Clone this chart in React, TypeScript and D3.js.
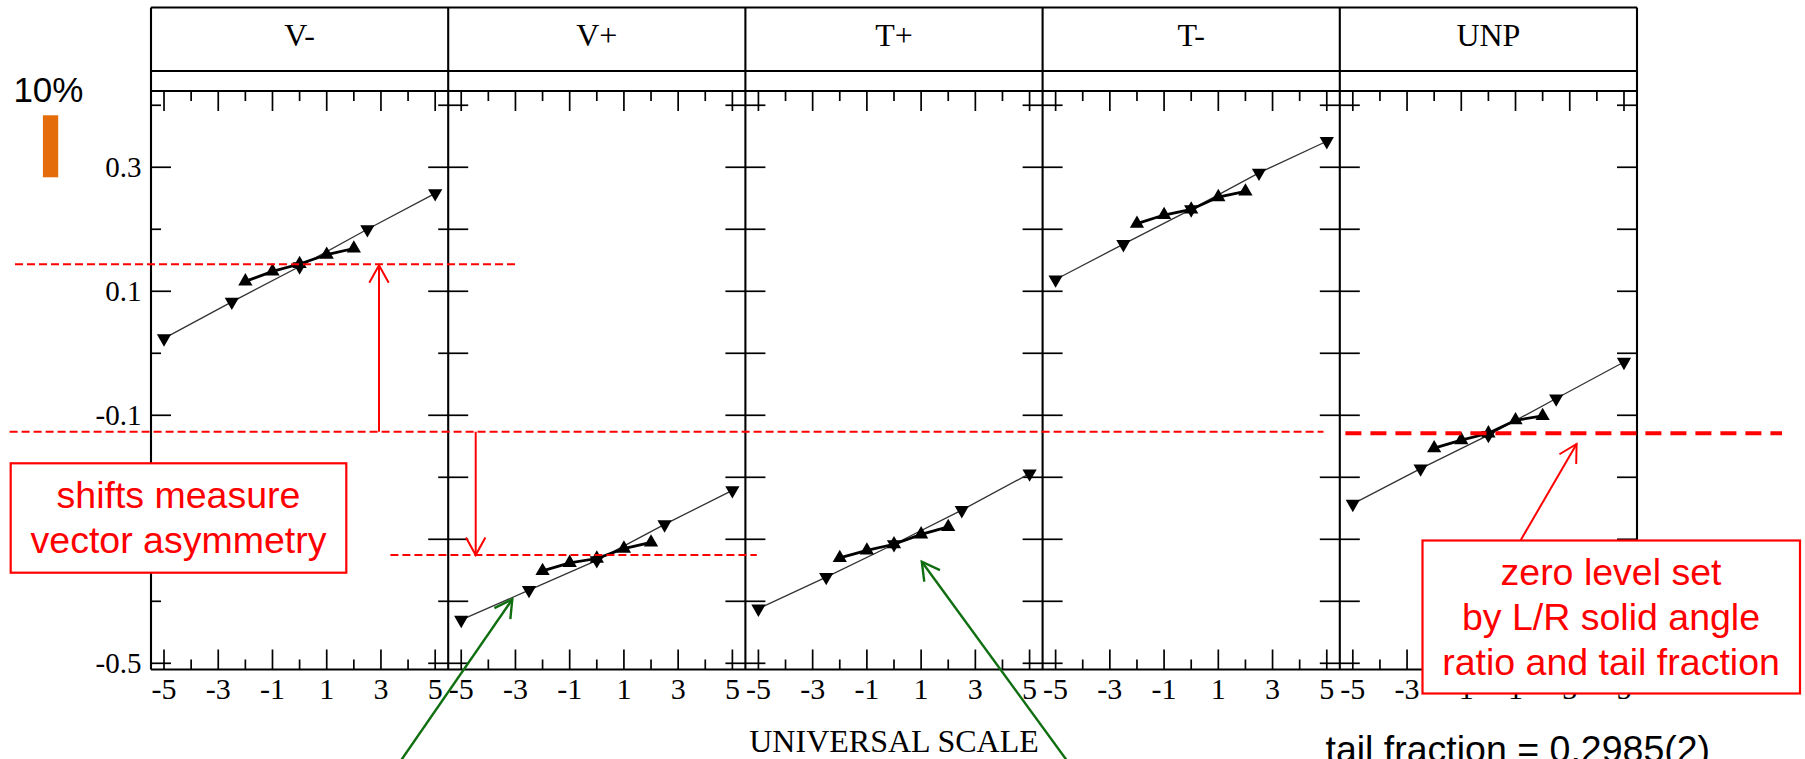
import React from 'react';
import * as d3 from 'd3';

// panels along the top
const panels = ['V-', 'V+', 'T+', 'T-', 'UNP'];

// universal-scale positions of the two series
const downX = [-5, -2.5, 0, 2.5, 5];
const upX = [-2, -1, 0, 1, 2];

// values per panel (down triangles, thin line)
const downY = [
  [0.024, 0.083, 0.14, 0.2, 0.258],
  [-0.43, -0.382, -0.334, -0.276, -0.221],
  [-0.412, -0.361, -0.308, -0.253, -0.194],
  [0.119, 0.176, 0.232, 0.291, 0.342],
  [-0.243, -0.186, -0.132, -0.073, -0.014],
];
// values per panel (up triangles, bold line)
const upY = [
  [0.116, 0.132, 0.144, 0.159, 0.169],
  [-0.351, -0.338, -0.331, -0.315, -0.305],
  [-0.33, -0.318, -0.308, -0.292, -0.28],
  [0.209, 0.223, 0.232, 0.252, 0.261],
  [-0.153, -0.14, -0.129, -0.108, -0.101],
];

const xTicks = [-5, -4, -3, -2, -1, 0, 1, 2, 3, 4, 5];
const xLabels = [-5, -3, -1, 1, 3, 5];
const yTicks = [-0.5, -0.4, -0.3, -0.2, -0.1, 0, 0.1, 0.2, 0.3, 0.4];
const yLabels = [0.3, 0.1, -0.1, -0.3, -0.5];

// red reference levels
const levelVminus = 0.1436;
const levelBase = -0.1265;
const levelVplus = -0.3255;
const levelZero = -0.129;

const W = 1805;
const H = 759;
const left = 151;
const panelW = 297.2;
const top = 91;
const bottom = 669.5;
const headTop = 7.5;
const headMid = 71;
const right = left + panelW * panels.length;

const serif = '"Liberation Serif", "Times New Roman", serif';
const sans = '"Liberation Sans", Arial, sans-serif';
const RED = '#ff0000';
const GREEN = '#0f6e0f';

const y = d3.scaleLinear().domain([-0.51, 0.423]).range([bottom, top]);
const xFor = (i: number) =>
  d3.scaleLinear().domain([-5.48, 5.48]).range([left + i * panelW, left + (i + 1) * panelW]);

const tri = d3.symbol().type(d3.symbolTriangle).size(88);

function Arrow({ x1, y1, x2, y2, color, width = 2 }: any) {
  const a = Math.atan2(y1 - y2, x1 - x2);
  const len = 20;
  const spread = (29 * Math.PI) / 180;
  const w1 = [x2 + len * Math.cos(a + spread), y2 + len * Math.sin(a + spread)];
  const w2 = [x2 + len * Math.cos(a - spread), y2 + len * Math.sin(a - spread)];
  return (
    <g stroke={color} strokeWidth={width} fill="none">
      <line x1={x1} y1={y1} x2={x2} y2={y2} />
      <path d={`M${w1[0]},${w1[1]}L${x2},${y2}L${w2[0]},${w2[1]}`} />
    </g>
  );
}

function Panel({ i }: { i: number }) {
  const x = xFor(i);
  const [x0, x1] = x.range();
  const thin = d3.line<number>().x((_, k) => x(downX[k])).y((d) => y(d));
  const bold = d3.line<number>().x((_, k) => x(upX[k])).y((d) => y(d));
  const isFirst = i === 0;
  const yTickLen = (v: number) => {
    if (!isFirst) return 20;
    return yLabels.some((l) => Math.abs(l - v) < 1e-6) ? 20 : 10;
  };
  return (
    <g>
      {/* x ticks top and bottom */}
      {xTicks.map((t) => {
        const len = Math.abs(t) % 2 === 1 ? 20 : 10;
        return (
          <g key={t} stroke="#000" strokeWidth={1.7}>
            <line x1={x(t)} x2={x(t)} y1={top} y2={top + len} />
            <line x1={x(t)} x2={x(t)} y1={bottom} y2={bottom - len} />
          </g>
        );
      })}
      {/* y ticks left and right */}
      {yTicks.map((t) => (
        <g key={t} stroke="#000" strokeWidth={1.7}>
          <line x1={x0} x2={x0 + yTickLen(t)} y1={y(t)} y2={y(t)} />
          <line x1={x1} x2={x1 - yTickLen(t)} y1={y(t)} y2={y(t)} />
        </g>
      ))}
      {xLabels.map((t) => (
        <text key={t} x={x(t)} y={698.5} textAnchor="middle" fontFamily={serif} fontSize={30}>
          {t}
        </text>
      ))}
      <text x={(x0 + x1) / 2} y={46} textAnchor="middle" fontFamily={serif} fontSize={32}>
        {panels[i]}
      </text>
      <path d={thin(downY[i]) || ''} fill="none" stroke="#333" strokeWidth={1.3} />
      <path d={bold(upY[i]) || ''} fill="none" stroke="#000" strokeWidth={2.8} />
      {downY[i].map((v, k) => (
        <path key={'d' + k} d={tri() || ''} transform={`translate(${x(downX[k])},${y(v)}) rotate(180)`} fill="#000" />
      ))}
      {upY[i].map((v, k) => (
        <path key={'u' + k} d={tri() || ''} transform={`translate(${x(upX[k])},${y(v)})`} fill="#000" />
      ))}
    </g>
  );
}

export default function App() {
  const dash = '8,4';
  const yBase = y(levelBase);
  return (
    <svg width={W} height={H} style={{ position: 'absolute', left: 0, top: 0, background: '#fff' }}>
      {/* frame */}
      <g stroke="#000" strokeWidth={2.1} fill="none">
        <line x1={left} x2={right} y1={headTop} y2={headTop} />
        <line x1={left} x2={right} y1={headMid} y2={headMid} />
        <line x1={left} x2={right} y1={top} y2={top} />
        <line x1={left} x2={right} y1={bottom} y2={bottom} />
        {d3.range(panels.length + 1).map((k) => (
          <line key={k} x1={left + k * panelW} x2={left + k * panelW} y1={headTop} y2={bottom} />
        ))}
      </g>
      {panels.map((_, i) => (
        <Panel key={i} i={i} />
      ))}
      {/* y labels */}
      {yLabels.map((v) => (
        <text key={v} x={141.5} y={y(v) + 9.8} textAnchor="end" fontFamily={serif} fontSize={29}>
          {v}
        </text>
      ))}
      <text x={(left + right) / 2} y={752} textAnchor="middle" fontFamily={serif} fontSize={32}>
        UNIVERSAL SCALE
      </text>

      {/* 10% scale bar */}
      <text x={13.4} y={101.5} fontFamily={sans} fontSize={35}>
        10%
      </text>
      <rect x={42.9} y={y(0) - 238} width={15.3} height={y(0) - y(0.1)} fill="#e46c0a" />

      {/* red levels */}
      <g stroke={RED} strokeWidth={2} strokeDasharray={dash}>
        <line x1={15} x2={517} y1={y(levelVminus)} y2={y(levelVminus)} />
        <line x1={9.6} x2={1323.5} y1={yBase} y2={yBase} />
        <line x1={390.4} x2={756.8} y1={y(levelVplus)} y2={y(levelVplus)} />
      </g>
      <line x1={1345.4} x2={1782} y1={y(levelZero)} y2={y(levelZero)} stroke={RED} strokeWidth={4} strokeDasharray="16,9" />
      <Arrow x1={379} y1={yBase} x2={379} y2={y(levelVminus) + 1} color={RED} />
      <Arrow x1={475.7} y1={yBase} x2={475.7} y2={y(levelVplus)} color={RED} />
      <Arrow x1={1520.8} y1={540} x2={1576.6} y2={444} color={RED} />

      {/* green arrows */}
      <Arrow x1={399.9} y1={762} x2={512.3} y2={599.3} color={GREEN} width={2.4} />
      <Arrow x1={1068} y1={762} x2={921.8} y2={561.7} color={GREEN} width={2.4} />

      {/* boxes */}
      <rect x={10.7} y={463.3} width={335.6} height={109.4} fill="#fff" stroke={RED} strokeWidth={2.2} />
      <g fill={RED} fontFamily={sans} fontSize={37.5} textAnchor="middle">
        <text x={178.5} y={508.3}>shifts measure</text>
        <text x={178.5} y={552.7}>vector asymmetry</text>
      </g>
      <rect x={1422.5} y={540.5} width={377.5} height={153} fill="#fff" stroke={RED} strokeWidth={2.2} />
      <g fill={RED} fontFamily={sans} fontSize={37.5} textAnchor="middle">
        <text x={1611} y={585}>zero level set</text>
        <text x={1611} y={630}>by L/R solid angle</text>
        <text x={1611} y={675}>ratio and tail fraction</text>
      </g>
      <text x={1325.5} y={762} fontFamily={sans} fontSize={37.5}>
        tail fraction = 0.2985(2)
      </text>
    </svg>
  );
}
